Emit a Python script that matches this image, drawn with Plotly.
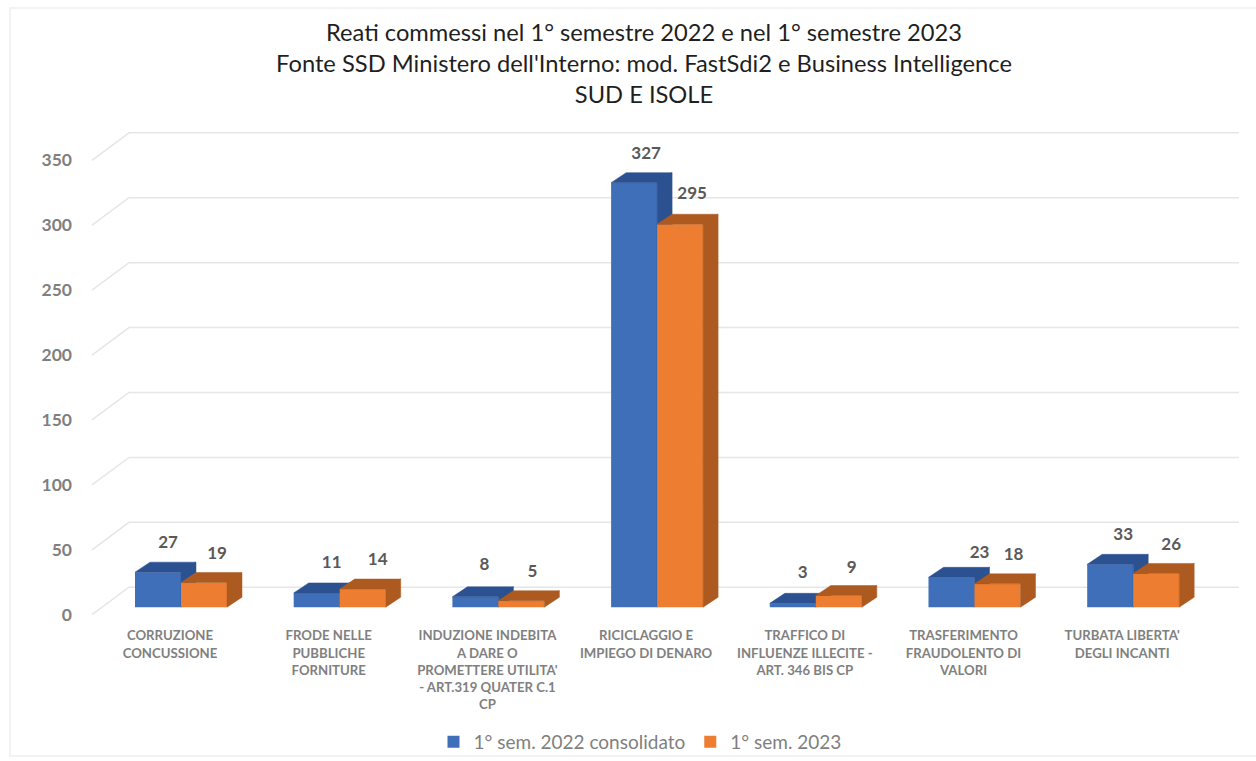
import plotly.graph_objects as go

categories = [
    "CORRUZIONE<br>CONCUSSIONE",
    "FRODE NELLE<br>PUBBLICHE<br>FORNITURE",
    "INDUZIONE INDEBITA<br>A DARE O<br>PROMETTERE UTILITA'<br>- ART.319 QUATER C.1<br>CP",
    "RICICLAGGIO E<br>IMPIEGO DI DENARO",
    "TRAFFICO DI<br>INFLUENZE ILLECITE -<br>ART. 346 BIS CP",
    "TRASFERIMENTO<br>FRAUDOLENTO DI<br>VALORI",
    "TURBATA LIBERTA'<br>DEGLI INCANTI",
]
sem_2022 = [27, 11, 8, 327, 3, 23, 33]
sem_2023 = [19, 14, 5, 295, 9, 18, 26]
y_ticks = [0, 50, 100, 150, 200, 250, 300, 350]
series_names = ["1° sem. 2022 consolidato", "1° sem. 2023"]
title_lines = [
    "Reati commessi nel 1° semestre 2022 e nel 1° semestre 2023",
    "Fonte SSD Ministero dell'Interno: mod. FastSdi2 e Business Intelligence",
    "SUD E ISOLE",
]

W, H = 1256, 761
FONT = "Lato, Carlito, sans-serif"
PX_X = 158.7          # pixels per category
PX_Y = 1.3            # pixels per unit
X0 = 181.0            # pixel of category 0 boundary between the two bars
BASE_BARS = 608.0     # pixel of value 0 on the bar plane
BASE_GRID = 615.5     # pixel of value 0 on the front of the floor
BOTTOM = 627.0        # pixel of plot bottom
BAR_W = 46 / PX_X
DX, DY = 15 / PX_X, 10 / PX_Y   # bar depth
GX_FRONT, GX_BACK, GX_END = 92.0, 129.0, 1239.0
G_RISE = 27.5 / PX_Y

# label nudges (pixels from top-centre of each bar front)
lab_dx = [[10, 15, 9, 12, 10, 28, 13], [13, 15, 11, 12, 13, 16, 15]]
lab_dy = [[28.5, 29.5, 31.5, 27.5, 29.5, 23.5, 28.5], [27.5, 28.5, 28.5, 29.5, 26.5, 28.5, 27.5]]

idx = list(range(len(categories)))


def to_x(px):
    return (px - X0) / PX_X


fig = go.Figure()

# gridlines: slanted side wall and back wall
gx, gy = [], []
for v in y_ticks:
    gx += [to_x(GX_FRONT), to_x(GX_BACK), to_x(GX_END), None]
    gy += [v, v + G_RISE, v + G_RISE, None]
fig.add_trace(go.Scatter(x=gx, y=gy, mode="lines", yaxis="y", showlegend=False, hoverinfo="skip",
                         line=dict(color="#e6e6e6", width=1.5)))
# invisible trace anchoring tick labels
fig.add_trace(go.Scatter(x=[to_x(GX_FRONT)] * len(y_ticks), y=y_ticks, mode="markers", yaxis="y",
                         marker=dict(opacity=0), showlegend=False, hoverinfo="skip"))


def series(vals, side, front, dark, name, axis):
    # side: -1 left-hand bar, 0 right-hand bar of the pair
    left = [i + side * BAR_W for i in idx]
    fig.add_trace(go.Bar(x=idx, y=vals, width=BAR_W, offset=side * BAR_W, name=name, yaxis=axis,
                         marker=dict(color=front, line=dict(width=0))))
    px, py = [], []
    for l, v in zip(left, vals):
        r = l + BAR_W
        # top face
        px += [l, r, r + DX, l + DX, l, None]
        py += [v, v, v + DY, v + DY, v, None]
        # side face
        px += [r, r + DX, r + DX, r, r, None]
        py += [0, DY, v + DY, v, 0, None]
    fig.add_trace(go.Scatter(x=px, y=py, mode="lines", fill="toself", fillcolor=dark, yaxis=axis,
                             line=dict(color=dark, width=0.5), showlegend=False, hoverinfo="skip"))


def add_labels(vals, side, dxs, dys):
    tx = [i + side * BAR_W + BAR_W / 2 + d / PX_X for i, d in zip(idx, dxs)]
    ty = [v + d / PX_Y for v, d in zip(vals, dys)]
    fig.add_trace(go.Scatter(x=tx, y=ty, mode="text", text=[str(v) for v in vals], yaxis="y3",
                             textposition="middle center", showlegend=False, hoverinfo="skip",
                             textfont=dict(family=FONT, size=17, color="#595959", weight=700),
                             cliponaxis=False))


series(sem_2022, -1, "#3f6fb9", "#2c5191", series_names[0], "y2")
series(sem_2023, 0, "#ed7d31", "#ad5a20", series_names[1], "y3")
add_labels(sem_2022, -1, lab_dx[0], lab_dy[0])
add_labels(sem_2023, 0, lab_dx[1], lab_dy[1])

fig.update_layout(
    width=W, height=H, autosize=False,
    margin=dict(l=0, r=0, t=0, b=0),
    paper_bgcolor="white", plot_bgcolor="white",
    barmode="overlay",
    font=dict(family=FONT, color="#7f7f7f"),
    title=dict(text="<br>".join(title_lines), x=644 / W, xanchor="center", y=1 - 41 / H, yanchor="top",
               font=dict(family=FONT, size=23.7, color="#1f1f1f")),
    xaxis=dict(range=[to_x(0), to_x(W)], domain=[0, 1], showgrid=False, zeroline=False, showline=False,
               tickmode="array", tickvals=[i - 11 / PX_X for i in idx], ticktext=categories, ticks="",
               tickangle=0, ticklen=0, tickfont=dict(family=FONT, size=13.2, color="#808080", weight=700)),
    yaxis=dict(domain=[(H - BOTTOM) / H, 1],
               range=[(BASE_GRID - BOTTOM) / PX_Y, BASE_GRID / PX_Y],
               anchor="free", position=72 / W, side="left", showgrid=False, zeroline=False, showline=False,
               tickmode="array", tickvals=y_ticks, ticks="",
               tickfont=dict(family=FONT, size=17.5, color="#7f7f7f", weight=700)),
    yaxis2=dict(overlaying="y", range=[(BASE_BARS - BOTTOM) / PX_Y, BASE_BARS / PX_Y], visible=False),
    yaxis3=dict(overlaying="y", range=[(BASE_BARS - BOTTOM) / PX_Y, BASE_BARS / PX_Y], visible=False),
    legend=dict(orientation="h", x=640 / W, xanchor="center", y=1 - 743 / H, yanchor="middle",
                font=dict(family=FONT, size=19, color="#7f7f7f"), bgcolor="rgba(0,0,0,0)"),
    shapes=[dict(type="rect", xref="paper", yref="paper", x0=10 / W, x1=1.02, y0=1 - 757 / H, y1=1 - 8 / H,
                 line=dict(color="#f0f0f0", width=1.5), layer="below")],
)
page_fix = (
    "var r=document.documentElement,b=document.body;"
    "r.style.height=b.style.height='761px';r.style.overflow=b.style.overflow='hidden';"
    "b.style.margin='0';"
    "document.querySelectorAll('body div').forEach(function(d){if(!d.closest('.plot-container')&&!d.closest('.svg-container'))d.style.display='block';});"
)
fig.write_html("out.html", config={"displayModeBar": False}, post_script=page_fix)
